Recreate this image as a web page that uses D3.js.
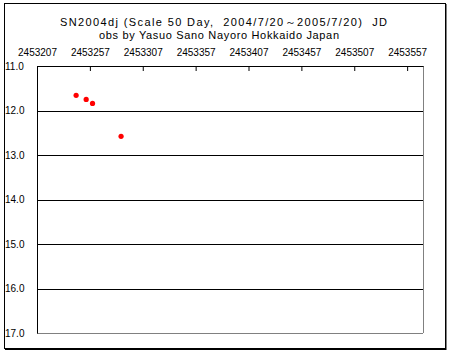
<!DOCTYPE html>
<html>
<head>
<meta charset="utf-8">
<script src="https://cdn.jsdelivr.net/npm/d3@7"></script>
<style>
    body { margin: 0; background: #fff; }
    text { font-family: "Liberation Sans", Arial, sans-serif; fill: #000; white-space: pre; }
</style>
</head>
<body>
<div id="chart"></div>
<script>
var titleLines = ["SN2004dj (Scale 50 Day,  2004/7/20\uFF5E2005/7/20)  JD", "obs by Yasuo Sano Nayoro Hokkaido Japan"];
var titleWidths = [327, 240];
var jdTicks = [2453207, 2453257, 2453307, 2453357, 2453407, 2453457, 2453507, 2453557];
var magTicks = [11, 12, 13, 14, 15, 16, 17];
var obsJD = [2453244, 2453253.5, 2453259.5, 2453286.5];
var obsMag = [11.66, 11.75, 11.84, 12.58];

var W = 450, H = 352;
var margin = { top: 66, right: 27, bottom: 19, left: 37 },
    width = W - margin.left - margin.right,
    height = H - margin.top - margin.bottom;

var svg = d3.select("#chart")
    .append("svg")
    .attr("width", W)
    .attr("height", H);

// outer frame
svg.append("rect")
    .attr("x", 4.5).attr("y", 3.5)
    .attr("width", 441).attr("height", 345)
    .attr("fill", "none").attr("stroke", "#000").attr("stroke-width", 1);
svg.append("line").attr("x1", 446).attr("x2", 446).attr("y1", 4).attr("y2", 350).attr("stroke", "#000");
svg.append("line").attr("x1", 5).attr("x2", 446).attr("y1", 349.5).attr("y2", 349.5).attr("stroke", "#000");

// titles
svg.selectAll("text.title")
    .data(titleLines)
    .enter()
    .append("text")
    .attr("class", "title")
    .attr("x", function (d, i) { return i == 0 ? 60 : 99; })
    .attr("y", function (d, i) { return 26 + i * 13; })
    .attr("textLength", function (d, i) { return titleWidths[i]; })
    .attr("lengthAdjust", "spacing")
    .style("font-size", "11px")
    .text(function (d) { return d; });

var g = svg.append("g")
    .attr("transform", "translate(" + margin.left + "," + margin.top + ")");

var x = d3.scaleLinear()
    .domain([2453207, 2453572])
    .range([0, width]);

var y = d3.scaleLinear()
    .domain([11, 17])
    .range([0, height]);

// horizontal grid lines
g.selectAll("line.grid")
    .data(magTicks.slice(1, -1))
    .enter()
    .append("line")
    .attr("x1", 0).attr("x2", width)
    .attr("y1", function (d) { return Math.round(y(d)) + 0.5; })
    .attr("y2", function (d) { return Math.round(y(d)) + 0.5; })
    .attr("stroke", "#000");

// right and bottom edges (grey)
g.append("line")
    .attr("x1", width + 0.5).attr("x2", width + 0.5)
    .attr("y1", 0).attr("y2", height)
    .attr("stroke", "#808080");
g.append("line")
    .attr("x1", 0).attr("x2", width)
    .attr("y1", height + 0.5).attr("y2", height + 0.5)
    .attr("stroke", "#808080");

// top axis, ticks pointing into the plot
var xAxis = g.append("g")
    .call(d3.axisTop(x).tickValues(jdTicks).tickSize(-5).tickSizeOuter(0).tickFormat(d3.format("d")));
xAxis.select(".domain").attr("stroke", "#000");
xAxis.selectAll("line").attr("stroke", "#000");
xAxis.selectAll("text")
    .attr("y", -10)
    .style("font-size", "10px")
    .style("font-family", "Liberation Sans, Arial, sans-serif");

// left axis
var yAxis = g.append("g")
    .call(d3.axisLeft(y).tickValues(magTicks).tickSize(0).tickFormat(d3.format(".1f")));
yAxis.select(".domain").attr("stroke", "#000");
yAxis.selectAll("text")
    .attr("x", -32)
    .attr("text-anchor", "start")
    .style("font-size", "10px")
    .style("font-family", "Liberation Sans, Arial, sans-serif");

// observations
g.selectAll("circle.obs")
    .data(obsJD)
    .enter()
    .append("circle")
    .attr("class", "obs")
    .attr("cx", function (d) { return x(d); })
    .attr("cy", function (d, i) { return y(obsMag[i]); })
    .attr("r", 2.6)
    .attr("fill", "#ff0000");
</script>
</body>
</html>
